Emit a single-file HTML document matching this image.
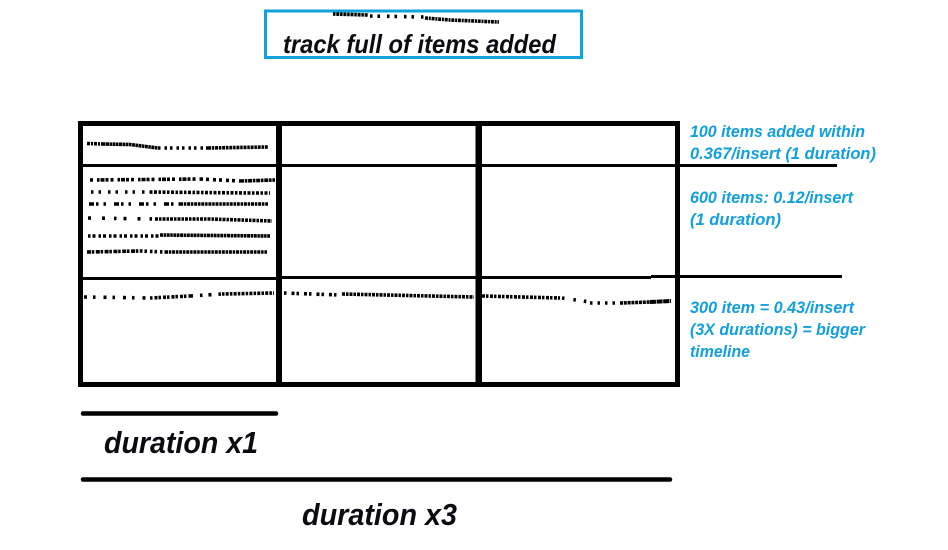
<!DOCTYPE html>
<html>
<head>
<meta charset="utf-8">
<style>
html,body{margin:0;padding:0;background:#fff}
svg{display:block}
text{font-family:"Liberation Sans",sans-serif;font-weight:bold;font-style:italic}
.k{fill:#0b0b12;font-size:31px}
.t{fill:#0b0b12;font-size:26px}
.b{fill:#12a0dc;font-size:16.5px}
.d{fill:none;stroke:#000;stroke-width:3.6}
</style>
</head>
<body>
<svg width="948" height="550" viewBox="0 0 948 550" xmlns="http://www.w3.org/2000/svg">
<rect width="948" height="550" fill="#fff"/>
<!-- top box -->
<rect x="265.500" y="11" width="316" height="46.500" fill="none" stroke="#12a3dc" stroke-width="3"/>
<text class="t" x="283" y="53" textLength="273" lengthAdjust="spacingAndGlyphs">track full of items added</text>
<path class="d" stroke-dasharray="2.500 .8 3 .8" d="M333 14L368 15"/>
<path class="d" stroke-dasharray="2.500 5 2.500 7" d="M370 16L424 17"/>
<path class="d" stroke-dasharray="3 .8 2 .8" d="M425 18L450 20L499 22"/>
<!-- grid -->
<rect x="80.500" y="123.500" width="597" height="261" fill="none" stroke="#000" stroke-width="5"/>
<rect x="276" y="123" width="6" height="262" fill="#000"/>
<rect x="475.500" y="123" width="6.500" height="262" fill="#000"/>
<!-- horizontals -->
<rect x="80" y="164" width="757" height="3" fill="#000"/>
<rect x="80" y="277" width="196" height="3" fill="#000"/>
<rect x="276" y="276" width="375" height="3" fill="#000"/>
<rect x="651" y="275" width="191" height="3" fill="#000"/>
<!-- row 1 marks -->
<path class="d" stroke-dasharray="3 1 2 1" d="M87 143.500L103 144"/>
<path class="d" stroke-dasharray="2.500 .5 3 .5" d="M103 144L130 144.500L158 148"/>
<path class="d" stroke-dasharray="2.500 4 2.500 3" d="M158 148L208 148"/>
<path class="d" stroke-dasharray="3 .8 2.500 .8" d="M208 148L268 147"/>
<!-- row 2 marks -->
<path class="d" stroke-dasharray="3 4 2.500 1 4 1 3 2" d="M90 180L200 179"/>
<path class="d" stroke-dasharray="3 3 3 4" d="M200 179L240 181"/>
<path class="d" stroke-dasharray="4 .8 2.500 .8" d="M240 181L275 180"/>
<path class="d" stroke-dasharray="2.500 5 2.500 7" d="M91 192L150 192"/>
<path class="d" stroke-dasharray="2.500 1.500 3 1.500" d="M150 192L250 193L270 193"/>
<path class="d" stroke-dasharray="5 2 2.500 5 2.500 8" d="M89 204L180 204"/>
<path class="d" stroke-dasharray="3 .8 2.500 .8" d="M180 204L268 204"/>
<path class="d" stroke-dasharray="3 11 3 9 2.500 7" d="M88 218L155 219"/>
<path class="d" stroke-dasharray="3 1 2.500 1" d="M155 219L210 219L272 221"/>
<path class="d" stroke-dasharray="2.500 2 3 3" d="M88 236L160 236"/>
<path class="d" stroke-dasharray="3 .6 2.500 .6" d="M160 235L270 236"/>
<path class="d" stroke-dasharray="4 .8 2.500 1.500" d="M87 252L140 251"/>
<path class="d" stroke-dasharray="2.500 2 2.500 3" d="M140 251L165 252"/>
<path class="d" stroke-dasharray="3 .8 2.500 .8" d="M165 252L267 252"/>
<!-- row 3 marks -->
<path class="d" stroke-dasharray="3 6 2.500 8" d="M84 297L150 298"/>
<path class="d" stroke-dasharray="2.500 2 3 1" d="M150 298L190 296"/>
<path class="d" stroke-dasharray="3 7 2.500 6" d="M190 296L222 294"/>
<path class="d" stroke-dasharray="2.500 1.200 3 1.200" d="M222 294L274 293"/>
<path class="d" stroke-dasharray="2.500 5 3 2" d="M284 293L340 295"/>
<path class="d" stroke-dasharray="3 1 2.500 1" d="M342 294L474 297"/>
<path class="d" stroke-dasharray="3 1 2.500 1.500" d="M482 296L560 298"/>
<path class="d" stroke-dasharray="2.500 9 2.500 8" d="M562 298L590 302"/>
<path class="d" stroke-dasharray="2.500 5 2.500 5" d="M590 303L620 303"/>
<path class="d" stroke-dasharray="3 .8 3 .8" d="M620 303L650 302"/>
<path d="M650 302L671 301" fill="none" stroke="#000" stroke-width="4" stroke-dasharray="6 .6"/>
<!-- blue annotations -->
<text class="b" x="690" y="137" textLength="175" lengthAdjust="spacingAndGlyphs">100 items added within</text>
<text class="b" x="690" y="159" textLength="186" lengthAdjust="spacingAndGlyphs">0.367/insert (1 duration)</text>
<text class="b" x="690" y="203" textLength="163" lengthAdjust="spacingAndGlyphs">600 items: 0.12/insert</text>
<text class="b" x="690" y="225" textLength="91" lengthAdjust="spacingAndGlyphs">(1 duration)</text>
<text class="b" x="690" y="313" textLength="164" lengthAdjust="spacingAndGlyphs">300 item = 0.43/insert</text>
<text class="b" x="690" y="335" textLength="175" lengthAdjust="spacingAndGlyphs">(3X durations) = bigger</text>
<text class="b" x="690" y="357" textLength="60" lengthAdjust="spacingAndGlyphs">timeline</text>
<!-- duration bars -->
<line x1="83" y1="413.500" x2="276" y2="413.500" stroke="#000" stroke-width="4.500" stroke-linecap="round"/>
<line x1="83" y1="479.500" x2="670" y2="479.500" stroke="#000" stroke-width="4.500" stroke-linecap="round"/>
<text class="k" x="104" y="453" textLength="154" lengthAdjust="spacingAndGlyphs">duration x1</text>
<text class="k" x="302" y="525" textLength="155" lengthAdjust="spacingAndGlyphs">duration x3</text>
</svg>
</body>
</html>
